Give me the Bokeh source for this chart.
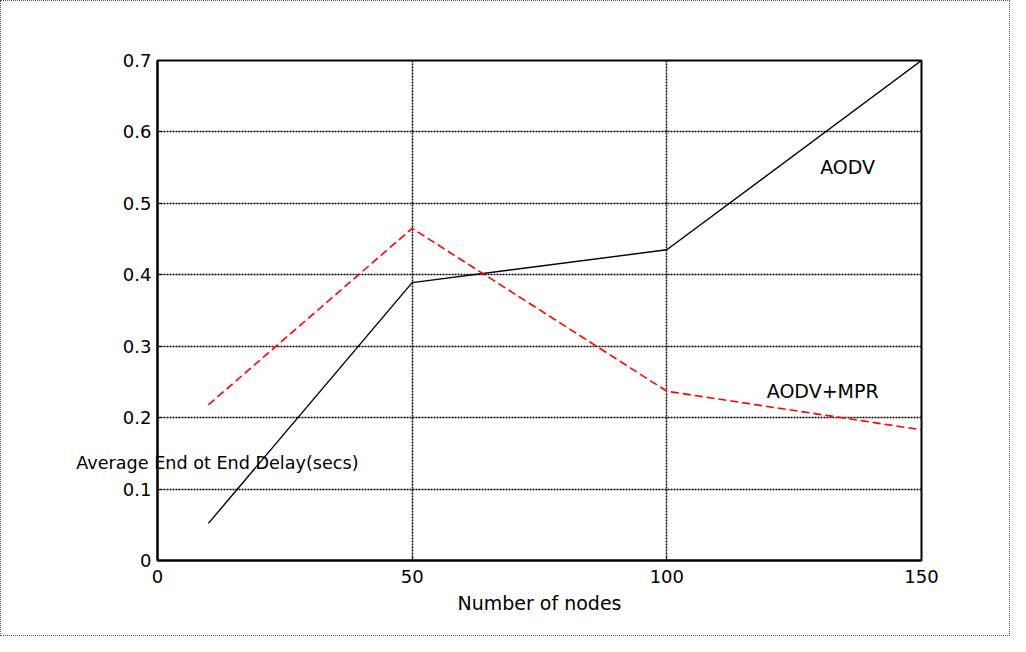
from bokeh.plotting import figure
from bokeh.models import Range1d, FixedTicker, Label, LinearAxis
from bokeh.embed import file_html
from bokeh.resources import INLINE

# ---- data ----
nodes = [10, 50, 100, 150]
aodv = [0.052, 0.389, 0.435, 0.700]
aodv_mpr = [0.218, 0.465, 0.237, 0.183]

x_ticks = [0, 50, 100, 150]
x_tick_labels = ["0", "50", "100", "150"]
y_ticks = [0, 0.1, 0.2, 0.3, 0.4, 0.5, 0.6, 0.7]
y_tick_labels = ["0", "0.1", "0.2", "0.3", "0.4", "0.5", "0.6", "0.7"]

x_title = "Number of nodes"
y_title = "Average End ot End Delay(secs)"
series_names = ["AODV", "AODV+MPR"]

FONT = "DejaVu Sans"

p = figure(width=1010, height=636, output_backend="svg", toolbar_location=None,
           x_range=Range1d(0, 150), y_range=Range1d(0, 0.7))
p.min_border_left = 157
p.min_border_right = 89
p.min_border_top = 60
p.min_border_bottom = 76
p.background_fill_color = "white"
p.border_fill_color = "white"
p.border_fill_alpha = 0
p.outline_line_color = "black"
p.outline_line_width = 2
p.styles = {"outline": "1px dotted #555", "outline-offset": "-1px"}

for ax in (p.xaxis[0], p.yaxis[0]):
    ax.axis_line_color = "black"
    ax.axis_line_width = 2
    ax.major_tick_in = 4
    ax.major_tick_out = 0
    ax.major_tick_line_color = "black"
    ax.major_tick_line_width = 1
    ax.minor_tick_line_color = None
    ax.major_label_text_font = FONT
    ax.major_label_text_font_size = "18px"
    ax.major_label_text_color = "black"

p.xaxis[0].ticker = FixedTicker(ticks=x_ticks)
p.xaxis[0].major_label_overrides = {v: l for v, l in zip(x_ticks, x_tick_labels)}
p.xaxis[0].major_label_standoff = 9
p.xaxis[0].axis_label = x_title
p.xaxis[0].axis_label_text_font = FONT
p.xaxis[0].axis_label_text_font_size = "19px"
p.xaxis[0].axis_label_text_font_style = "normal"
p.xaxis[0].axis_label_text_color = "black"
p.xaxis[0].axis_label_standoff = 6

p.yaxis[0].ticker = FixedTicker(ticks=y_ticks)
p.yaxis[0].major_label_overrides = {v: l for v, l in zip(y_ticks, y_tick_labels)}
p.yaxis[0].major_label_standoff = 6

# y-axis title drawn horizontally, as in the original figure (partly inside the box)
title_pos = 0.137
title_axis = LinearAxis(ticker=FixedTicker(ticks=[title_pos]),
                        major_label_overrides={title_pos: y_title})
title_axis.axis_line_color = None
title_axis.major_tick_line_color = None
title_axis.minor_tick_line_color = None
title_axis.major_tick_out = 0
title_axis.major_tick_in = 0
title_axis.major_label_standoff = -239
title_axis.major_label_text_font = FONT
title_axis.major_label_text_font_size = "17.6px"
title_axis.major_label_text_color = "black"
p.add_layout(title_axis, "left")

for g in (p.xgrid[0], p.ygrid[0]):
    g.grid_line_color = "black"
    g.grid_line_width = 1.5
    g.grid_line_dash = "2 1"
    g.grid_line_alpha = 1.0
p.xgrid[0].ticker = FixedTicker(ticks=x_ticks)
p.ygrid[0].ticker = FixedTicker(ticks=y_ticks)

p.line(nodes, aodv, line_color="black", line_width=1.4)
p.line(nodes, aodv_mpr, line_color="#ff0000", line_width=1.6, line_dash="8 4")

p.add_layout(Label(x=135.5, y=0.551, text=series_names[0], text_font=FONT,
                   text_font_size="19px", text_align="center", text_baseline="middle",
                   text_color="black"))
p.add_layout(Label(x=130.6, y=0.237, text=series_names[1], text_font=FONT,
                   text_font_size="19px", text_align="center", text_baseline="middle",
                   text_color="black"))

open("out.html", "w").write(file_html(p, INLINE))
